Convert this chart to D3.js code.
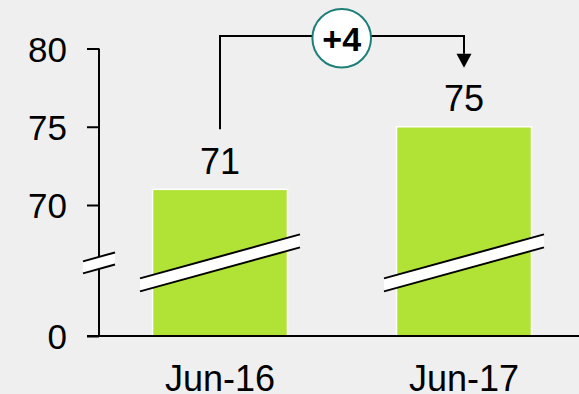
<!DOCTYPE html>
<html>
<head>
<meta charset="utf-8">
<script src="https://cdn.jsdelivr.net/npm/d3@7/dist/d3.min.js"></script>
<style>
  html, body { margin: 0; padding: 0; background: #efefef; }
  svg { display: block; font-family: "Liberation Sans", Arial, sans-serif; }
</style>
</head>
<body>
<svg id="chart" width="579" height="394"></svg>
<script>
// Data
const categories = ["Jun-16", "Jun-17"];
const values = [71, 75];
const tickValues = [0, 70, 75, 80];
const changeLabel = "+4";

const W = 579, H = 394;
const svg = d3.select("#chart");
svg.append("rect").attr("width", W).attr("height", H).attr("fill", "#efefef");

// Broken value axis: 0 at the base, upper segment 66..80 in linear scale
const breakValue = 66;
const y = d3.scaleLinear()
  .domain([0, breakValue, 80])
  .range([336, 267.6, 48.5]);

const x = d3.scaleBand()
  .domain(categories)
  .range([98, 586])
  .paddingInner(0.447)
  .paddingOuter(0.2235);

const axisX = 99;
const breakY = y(66.3);
const barColor = "#b0e335";

// Bars
svg.selectAll("rect.bar")
  .data(values)
  .join("rect")
  .attr("class", "bar")
  .attr("x", (d, i) => x(categories[i]))
  .attr("y", d => y(d))
  .attr("width", x.bandwidth())
  .attr("height", d => y(0) - y(d))
  .attr("fill", barColor)
  .attr("stroke", "#ffffff")
  .attr("stroke-width", 1.5);

// Y axis
const yAxis = d3.axisLeft(y).tickValues(tickValues).tickSize(12).tickPadding(20).tickFormat(d3.format("d"));
const gy = svg.append("g").attr("transform", `translate(${axisX},0)`).call(yAxis);
gy.select(".domain").remove();
gy.append("line").attr("x1", 0).attr("x2", 0).attr("y1", y(80)).attr("y2", y(0))
  .attr("stroke", "#000").attr("stroke-width", 2);
gy.selectAll(".tick line").attr("stroke", "#000").attr("stroke-width", 2);
gy.selectAll(".tick text")
  .attr("fill", "#000")
  .attr("font-size", 35)
  .attr("font-family", "Liberation Sans, Arial, sans-serif")
  .attr("dy", "0.36em");

// X baseline
svg.append("line")
  .attr("x1", axisX - 12).attr("x2", W)
  .attr("y1", y(0)).attr("y2", y(0))
  .attr("stroke", "#000").attr("stroke-width", 2);

// Category labels
const xAxis = d3.axisBottom(x).tickSize(0).tickPadding(0);
const gx = svg.append("g").attr("transform", `translate(0,${y(0)})`).call(xAxis);
gx.select(".domain").remove();
gx.selectAll(".tick text")
  .attr("fill", "#000")
  .attr("font-size", 36)
  .attr("font-family", "Liberation Sans, Arial, sans-serif")
  .attr("dy", null)
  .attr("y", 55);

// Break marks: white slanted band bordered by two black lines
function breakMark(cx, halfW, cy, slope, thick) {
  const dy = halfW * slope;
  const x0 = cx - halfW, x1 = cx + halfW;
  const yt0 = cy + dy - thick / 2, yt1 = cy - dy - thick / 2;
  const yb0 = cy + dy + thick / 2, yb1 = cy - dy + thick / 2;
  const g = svg.append("g");
  g.append("path")
    .attr("d", `M${x0},${yt0}L${x1},${yt1}L${x1},${yb1}L${x0},${yb0}Z`)
    .attr("fill", "#ffffff");
  g.append("line").attr("x1", x0).attr("y1", yt0).attr("x2", x1).attr("y2", yt1)
    .attr("stroke", "#000").attr("stroke-width", 2);
  g.append("line").attr("x1", x0).attr("y1", yb0).attr("x2", x1).attr("y2", yb1)
    .attr("stroke", "#000").attr("stroke-width", 2);
}
breakMark(axisX, 16, breakY, 0.28, 12);
categories.forEach(c => breakMark(x(c) + x.bandwidth() / 2, 80, breakY, 0.275, 13));

// Value labels
svg.selectAll("text.val")
  .data(values)
  .join("text")
  .attr("class", "val")
  .attr("x", (d, i) => x(categories[i]) + x.bandwidth() / 2)
  .attr("y", d => y(d) - 15.5)
  .attr("text-anchor", "middle")
  .attr("font-size", 36)
  .attr("fill", "#000")
  .text(d => d);

// Change connector with arrow
const cx1 = x(categories[0]) + x.bandwidth() / 2;
const cx2 = x(categories[1]) + x.bandwidth() / 2;
const topY = 36;
svg.append("path")
  .attr("d", `M${cx1},${y(values[0]) - 60}V${topY}H${cx2}V${y(values[1]) - 73}`)
  .attr("fill", "none")
  .attr("stroke", "#000")
  .attr("stroke-width", 2);
const tipY = y(values[1]) - 59;
svg.append("path")
  .attr("d", `M${cx2 - 7.5},${tipY - 14}L${cx2 + 7.5},${tipY - 14}L${cx2},${tipY}Z`)
  .attr("fill", "#000");

// Change bubble
const bx = (cx1 + cx2) / 2 + 0;
svg.append("circle")
  .attr("cx", 341.7).attr("cy", 38.3).attr("r", 29.3)
  .attr("fill", "#ffffff")
  .attr("stroke", "#1c7f78")
  .attr("stroke-width", 2);
svg.append("text")
  .attr("x", 341.7).attr("y", 38.3)
  .attr("dy", "0.36em")
  .attr("text-anchor", "middle")
  .attr("font-size", 34)
  .attr("font-weight", "bold")
  .attr("fill", "#000")
  .text(changeLabel);
</script>
</body>
</html>
